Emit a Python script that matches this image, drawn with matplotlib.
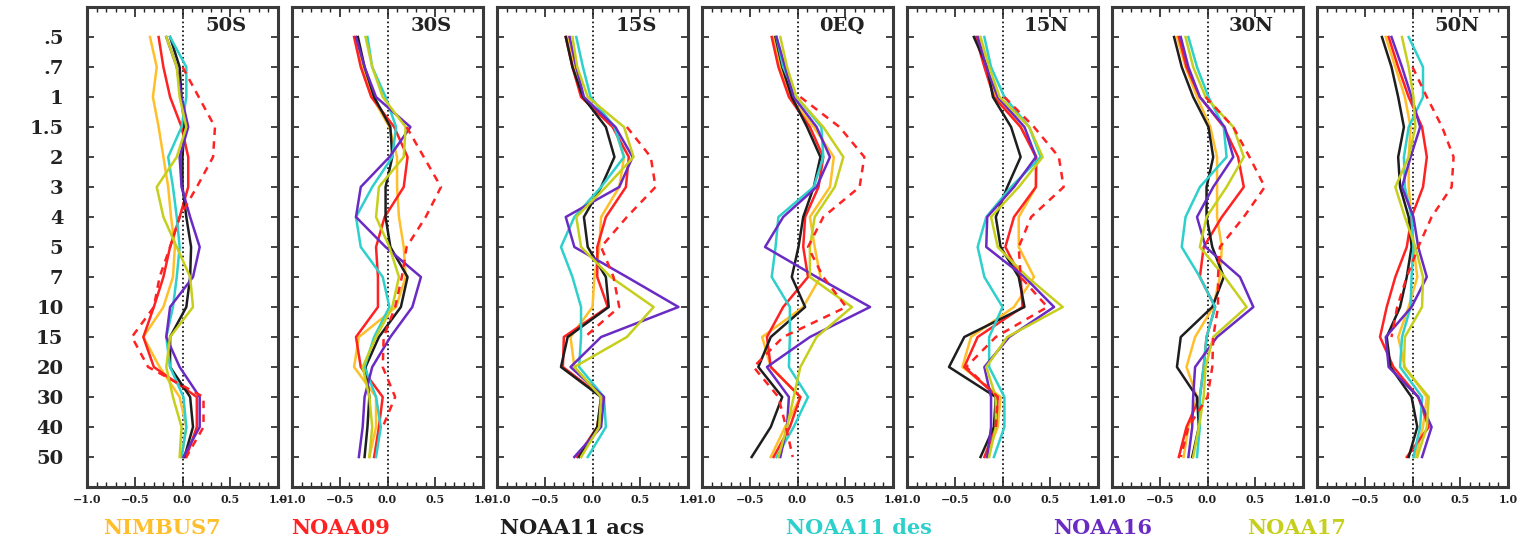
import numpy as np
import matplotlib.pyplot as plt
from matplotlib.ticker import MultipleLocator

nan = np.nan

# pressure levels (hPa) shown top to bottom, one panel per latitude band
levels = ['.5', '.7', '1', '1.5', '2', '3', '4', '5', '7', '10', '15', '20', '30', '40', '50']
regions = ['50S', '30S', '15S', '0EQ', '15N', '30N', '50N']
xticks = [-1.0, -0.5, 0.0, 0.5, 1.0]
xtick_labels = ['\u22121.0', '\u22120.5', '0.0', '0.5', '1.0']

# one row per region, one value per level
nimbus7 = [
    [-0.34, -0.27, -0.31, -0.25, -0.20, -0.15, -0.12, -0.08, -0.10, -0.20, -0.41, -0.24, -0.03, 0.04, -0.01],
    [-0.33, -0.26, -0.16, 0.02, 0.10, 0.10, 0.12, 0.17, 0.19, 0.09, -0.30, -0.35, -0.12, -0.12, -0.19],
    [-0.26, -0.19, -0.10, 0.23, 0.33, 0.28, 0.09, 0.07, 0.02, 0.00, -0.23, -0.19, 0.09, 0.05, -0.12],
    [-0.25, -0.18, -0.08, 0.17, 0.38, 0.34, 0.13, 0.18, 0.24, 0.06, -0.37, -0.28, 0.03, -0.13, -0.28],
    [-0.24, -0.17, -0.07, 0.19, 0.36, 0.35, 0.17, 0.17, 0.33, 0.12, -0.33, -0.42, -0.02, -0.05, -0.17],
    [-0.32, -0.23, -0.11, 0.03, 0.10, 0.10, 0.10, 0.15, 0.13, 0.06, -0.13, -0.22, -0.11, -0.20, -0.25],
    [-0.28, -0.18, -0.08, -0.02, -0.04, -0.04, -0.01, 0.01, 0.05, -0.04, -0.15, -0.08, 0.15, 0.11, 0.03],
]
noaa09 = [
    [-0.25, -0.20, -0.13, -0.01, 0.06, 0.06, -0.03, -0.13, -0.20, -0.30, -0.41, -0.30, 0.15, 0.15, 0.04],
    [-0.35, -0.28, -0.17, 0.07, 0.21, 0.17, -0.03, -0.12, -0.10, -0.10, -0.33, -0.28, -0.05, -0.09, -0.14],
    [-0.28, -0.21, -0.12, 0.21, 0.38, 0.35, 0.14, 0.05, 0.05, 0.16, -0.30, -0.31, 0.10, 0.05, -0.16],
    [-0.27, -0.20, -0.09, 0.13, 0.27, 0.22, 0.08, 0.06, 0.11, -0.15, -0.32, -0.28, 0.03, -0.08, -0.25],
    [-0.28, -0.19, -0.09, 0.19, 0.35, 0.35, 0.12, 0.03, 0.19, 0.21, -0.26, -0.40, -0.05, -0.07, -0.19],
    [-0.30, -0.22, -0.08, 0.17, 0.32, 0.38, 0.15, -0.04, -0.08, 0.08, -0.01, -0.04, -0.08, -0.22, -0.30],
    [-0.25, -0.15, -0.04, 0.10, 0.15, 0.11, -0.01, -0.06, -0.18, -0.27, -0.34, -0.20, 0.06, 0.17, -0.06],
]
noaa11_acs = [
    [-0.13, -0.03, -0.01, 0.02, 0.00, 0.00, 0.04, 0.09, 0.08, 0.04, -0.13, -0.13, 0.08, 0.11, 0.02],
    [-0.31, -0.24, -0.14, 0.03, 0.05, -0.02, -0.02, 0.03, 0.21, 0.14, -0.09, -0.23, -0.19, -0.21, -0.24],
    [-0.28, -0.21, -0.10, 0.14, 0.23, 0.09, -0.09, -0.05, 0.14, 0.17, -0.26, -0.33, 0.09, 0.05, -0.14],
    [-0.23, -0.16, -0.06, 0.10, 0.24, 0.17, 0.06, 0.01, -0.06, 0.08, -0.28, -0.41, -0.16, -0.28, -0.48],
    [-0.30, -0.16, -0.10, 0.09, 0.19, 0.05, -0.07, -0.02, 0.17, 0.23, -0.40, -0.56, -0.07, -0.09, -0.23],
    [-0.35, -0.27, -0.15, 0.01, 0.06, -0.01, -0.01, 0.05, 0.17, 0.05, -0.28, -0.32, -0.11, -0.09, -0.16],
    [-0.32, -0.22, -0.15, -0.09, -0.15, -0.13, -0.04, -0.01, -0.06, -0.13, -0.27, -0.23, -0.01, 0.05, -0.04],
]
noaa11_des = [
    [-0.13, 0.04, 0.04, -0.01, -0.15, -0.10, -0.06, -0.03, -0.06, -0.10, -0.17, -0.13, 0.01, 0.04, -0.01],
    [-0.21, -0.16, -0.02, 0.09, 0.05, -0.16, -0.33, -0.28, -0.05, 0.02, -0.14, -0.24, -0.12, -0.07, -0.12],
    [-0.17, -0.10, -0.02, 0.23, 0.33, 0.09, -0.19, -0.33, -0.21, -0.12, -0.12, -0.14, 0.12, 0.14, -0.05],
    [-0.22, -0.15, -0.01, 0.25, 0.27, 0.17, -0.20, -0.23, -0.27, -0.08, -0.08, -0.09, 0.11, -0.04, -0.22],
    [-0.19, -0.12, 0.02, 0.28, 0.40, 0.09, -0.17, -0.26, -0.19, 0.00, -0.14, -0.14, 0.02, 0.02, -0.09],
    [-0.20, -0.11, 0.01, 0.17, 0.20, -0.08, -0.23, -0.27, -0.08, 0.08, -0.01, -0.04, -0.08, -0.08, -0.11],
    [-0.04, 0.11, 0.11, -0.04, -0.09, -0.08, -0.01, 0.01, -0.01, -0.02, -0.11, -0.13, 0.10, 0.08, 0.01],
]
noaa16 = [
    [-0.17, -0.06, -0.01, 0.06, -0.03, -0.01, 0.08, 0.18, 0.11, -0.13, -0.17, -0.03, 0.18, 0.18, 0.01],
    [-0.33, -0.24, -0.12, 0.24, 0.02, -0.28, -0.33, -0.02, 0.35, 0.26, 0.03, -0.16, -0.24, -0.26, -0.30],
    [-0.24, -0.17, -0.09, 0.24, 0.42, 0.28, -0.28, -0.19, 0.36, 0.90, 0.09, -0.23, 0.12, 0.09, -0.19],
    [-0.22, -0.13, -0.04, 0.20, 0.34, 0.20, -0.15, -0.34, 0.20, 0.76, 0.13, -0.32, -0.09, -0.11, -0.18],
    [-0.26, -0.17, -0.05, 0.23, 0.35, 0.12, -0.16, -0.17, 0.23, 0.54, 0.07, -0.19, -0.12, -0.12, -0.16],
    [-0.28, -0.20, -0.08, 0.18, 0.27, 0.06, -0.11, -0.02, 0.34, 0.48, 0.10, -0.13, -0.15, -0.16, -0.20],
    [-0.22, -0.11, -0.01, 0.08, -0.02, -0.11, 0.01, 0.06, 0.15, -0.01, -0.28, -0.25, 0.06, 0.20, 0.10],
]
noaa17 = [
    [-0.17, -0.06, -0.03, 0.04, -0.06, -0.27, -0.20, -0.06, 0.08, 0.11, -0.13, -0.17, -0.10, -0.01, -0.03],
    [-0.23, -0.16, -0.05, 0.19, 0.17, -0.09, -0.12, 0.02, 0.12, 0.05, -0.12, -0.26, -0.19, -0.16, -0.19],
    [-0.21, -0.16, -0.05, 0.33, 0.43, 0.14, -0.17, -0.12, 0.19, 0.64, 0.36, -0.19, 0.09, 0.07, -0.12],
    [-0.18, -0.11, -0.01, 0.27, 0.48, 0.39, 0.18, 0.13, 0.13, 0.57, 0.20, 0.03, -0.04, -0.11, -0.20],
    [-0.23, -0.14, -0.03, 0.28, 0.42, 0.17, -0.12, -0.05, 0.26, 0.63, 0.05, -0.17, -0.07, -0.07, -0.14],
    [-0.23, -0.15, -0.02, 0.27, 0.38, 0.20, -0.01, -0.08, 0.18, 0.41, 0.06, -0.02, -0.04, -0.09, -0.15],
    [-0.11, -0.04, 0.01, 0.03, -0.04, -0.18, -0.08, 0.03, 0.11, 0.10, -0.08, -0.09, 0.17, 0.15, 0.05],
]
# red dashed profile (no label in the figure)
dashed = [
    [nan, 0.00, 0.17, 0.34, 0.32, 0.15, -0.03, -0.13, -0.24, -0.30, -0.53, -0.36, 0.22, 0.22, 0.04],
    [nan, nan, nan, 0.20, 0.38, 0.56, 0.40, 0.20, 0.15, 0.08, -0.04, -0.05, 0.08, -0.05, nan],
    [nan, nan, nan, 0.36, 0.61, 0.66, 0.36, 0.09, 0.22, 0.28, -0.08, nan, nan, nan, nan],
    [nan, nan, 0.03, 0.44, 0.70, 0.65, 0.27, 0.11, 0.27, 0.51, -0.15, -0.46, -0.20, -0.12, -0.05],
    [nan, nan, 0.02, 0.33, 0.59, 0.64, 0.30, 0.17, 0.19, 0.47, -0.07, -0.38, -0.05, -0.07, nan],
    [nan, nan, -0.02, 0.27, 0.44, 0.60, 0.38, 0.13, 0.11, 0.11, 0.06, 0.05, 0.00, -0.20, -0.28],
    [nan, 0.00, 0.15, 0.31, 0.43, 0.41, 0.20, 0.06, -0.06, -0.16, -0.22, nan, nan, nan, nan],
]

names = ['NIMBUS7', 'NOAA09', 'NOAA11 acs', 'NOAA11 des', 'NOAA16', 'NOAA17']
colors = ['#ffbf2a', '#ff2222', '#1e1e1e', '#2ed0cc', '#6a2bc4', '#c6cf1c']
series = [nimbus7, noaa09, noaa11_acs, noaa11_des, noaa16, noaa17]
legend_x = [162, 341, 572, 859, 1103, 1297]

plt.rcParams['font.family'] = ['DejaVu Serif']
plt.rcParams['font.weight'] = 'bold'

W, H = 1526, 541
fig = plt.figure(figsize=(W / 100, H / 100), dpi=100)

ylev = np.arange(len(levels))
for i, reg in enumerate(regions):
    ax = fig.add_axes([(87 + 205 * i) / W, 1 - 487 / H, 191 / W, 480 / H])
    ax.axvline(0, color='black', lw=1.2, ls=':', zorder=1)
    for s, c in zip(series, colors):
        ax.plot(s[i], ylev, color=c, lw=1.8, zorder=2)
    ax.plot(dashed[i], ylev, color='#ff2222', lw=1.8, ls=(0, (3, 2.5)), zorder=3)

    ax.set_xlim(-1, 1)
    ax.set_ylim(15, -1)
    ax.set_xticks(xticks)
    ax.set_xticklabels(xtick_labels)
    ax.xaxis.set_minor_locator(MultipleLocator(0.1))
    ax.set_yticks(ylev)
    if i == 0:
        ax.set_yticklabels(levels)
    else:
        ax.set_yticklabels([])
    ax.tick_params(axis='x', which='major', direction='in', length=7, width=1.2,
                   top=True, labelsize=8, pad=5, colors='#222222')
    ax.tick_params(axis='x', which='minor', direction='in', length=3.5, width=1.0, top=True,
                   color='#222222')
    ax.tick_params(axis='y', which='major', direction='in', length=5, width=1.2,
                   right=True, labelsize=14, pad=17, colors='#222222')
    for sp in ax.spines.values():
        sp.set_linewidth(2.2)
        sp.set_color('#3a3a3a')
    ax.text(0.46, -0.37, reg, ha='center', va='center', fontsize=14, color='#222222')

for name, c, x in zip(names, colors, legend_x):
    fig.text(x / W, 1 - 528 / H, name, color=c, ha='center', va='center', fontsize=15)

fig.savefig('out.png', dpi=100)
